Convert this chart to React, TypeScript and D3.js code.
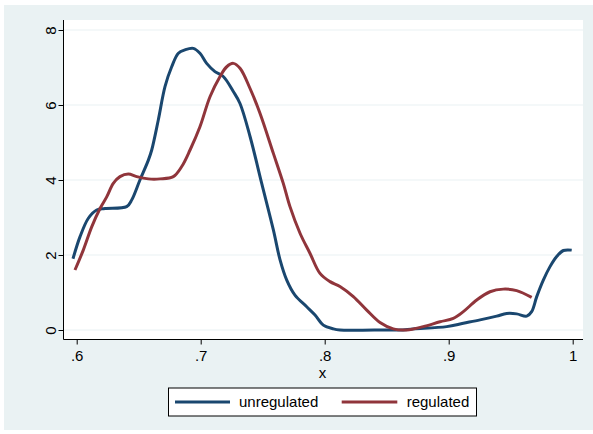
import * as d3 from "d3";
import { useEffect, useRef } from "react";

// unregulated density (x, y)
const unregX = [0.597, 0.6027, 0.6094, 0.6161, 0.6228, 0.6403, 0.6444, 0.651, 0.6578, 0.6605, 0.6658, 0.6712, 0.6766, 0.682, 0.6873, 0.694, 0.6994, 0.7048, 0.7115, 0.7182, 0.7263, 0.7317, 0.7398, 0.7492, 0.7586, 0.764, 0.7694, 0.776, 0.7855, 0.7922, 0.7989, 0.807, 0.8123, 0.84, 0.86, 0.8715, 0.8984, 0.9118, 0.9253, 0.9387, 0.9468, 0.9548, 0.9629, 0.9669, 0.971, 0.9763, 0.9817, 0.9871, 0.9925, 0.9992];
const unregY = [1.9, 2.49, 2.98, 3.2, 3.24, 3.29, 3.47, 4.0, 4.53, 4.8, 5.6, 6.49, 7.02, 7.38, 7.47, 7.51, 7.38, 7.11, 6.89, 6.76, 6.36, 6.04, 5.16, 3.91, 2.67, 1.87, 1.33, 0.93, 0.62, 0.4, 0.13, 0.03, 0.0, 0.0, 0.0, 0.03, 0.09, 0.18, 0.27, 0.37, 0.44, 0.43, 0.37, 0.49, 0.89, 1.33, 1.69, 1.96, 2.12, 2.13];

// regulated density (x, y)
const regX = [0.5986, 0.6053, 0.6121, 0.6188, 0.6242, 0.6295, 0.6349, 0.6416, 0.6484, 0.6578, 0.6672, 0.6779, 0.6847, 0.6914, 0.6994, 0.7075, 0.7156, 0.721, 0.7263, 0.7317, 0.7398, 0.7478, 0.7586, 0.7666, 0.772, 0.7801, 0.7882, 0.7962, 0.8043, 0.8123, 0.8231, 0.8339, 0.8446, 0.8553, 0.8661, 0.8795, 0.893, 0.9037, 0.9118, 0.9226, 0.9333, 0.944, 0.9548, 0.9669];
const regY = [1.6, 2.13, 2.75, 3.24, 3.55, 3.91, 4.09, 4.16, 4.09, 4.03, 4.03, 4.09, 4.36, 4.8, 5.42, 6.22, 6.76, 7.02, 7.11, 6.98, 6.44, 5.78, 4.71, 3.91, 3.29, 2.58, 2.04, 1.51, 1.29, 1.16, 0.89, 0.53, 0.2, 0.03, 0.0, 0.09, 0.22, 0.31, 0.49, 0.8, 1.02, 1.09, 1.05, 0.87];

const xTicks = [0.6, 0.7, 0.8, 0.9, 1];
const yTicks = [0, 2, 4, 6, 8];
const seriesNames = ["unregulated", "regulated"];
const colors = ["#1a476f", "#90353b"];

const W = 593;
const H = 434;
const FONT = "'Liberation Sans', Arial, sans-serif";

export default function App() {
  const svgRef = useRef<SVGSVGElement>(null);

  useEffect(() => {
    const svg = d3.select(svgRef.current);
    svg.selectAll("*").remove();
    svg.attr("width", W).attr("height", H);

    // outer background
    svg.append("rect").attr("width", W).attr("height", H).attr("fill", "#fff");
    svg
      .append("rect")
      .attr("x", 4)
      .attr("y", 5)
      .attr("width", W - 4)
      .attr("height", 425)
      .attr("fill", "#eaf2f3");

    const plot = { left: 63.5, right: 583, top: 20, bottom: 339.5 };
    svg
      .append("rect")
      .attr("x", plot.left)
      .attr("y", plot.top)
      .attr("width", plot.right - plot.left)
      .attr("height", plot.bottom - plot.top)
      .attr("fill", "#fff");

    const x = d3.scaleLinear().domain([0.6, 1]).range([76.7, 572.7]);
    const y = d3.scaleLinear().domain([0, 8]).range([330, 30]);

    // gridlines
    svg
      .append("g")
      .selectAll("line")
      .data(yTicks)
      .enter()
      .append("line")
      .attr("x1", plot.left)
      .attr("x2", plot.right)
      .attr("y1", (d) => y(d))
      .attr("y2", (d) => y(d))
      .attr("stroke", "#eaf2f3")
      .attr("stroke-width", 1.2);

    // y axis
    const ya = svg
      .append("g")
      .attr("transform", `translate(${plot.left},0)`)
      .call(
        d3
          .axisLeft(y)
          .tickValues(yTicks)
          .tickSize(5)
          .tickSizeOuter(0)
          .tickFormat((d) => String(d))
      );
    ya.select(".domain").attr("d", `M0,${plot.top}V${plot.bottom}`).attr("stroke", "#000");
    ya.selectAll(".tick line").attr("stroke", "#000");
    ya.selectAll<SVGTextElement, number>(".tick text")
      .attr("font-family", FONT)
      .attr("font-size", 15)
      .attr("fill", "#000")
      .attr("text-anchor", "middle")
      .attr("x", 0)
      .attr("dy", 0)
      .attr("transform", "translate(-13,0) rotate(-90)")
      .attr("dominant-baseline", "central");

    // x axis
    const xa = svg
      .append("g")
      .attr("transform", `translate(0,${plot.bottom})`)
      .call(
        d3
          .axisBottom(x)
          .tickValues(xTicks)
          .tickSize(5)
          .tickSizeOuter(0)
          .tickFormat((d) => {
            const v = +d;
            return v === 1 ? "1" : d3.format(".1f")(v).replace(/^0/, "");
          })
      );
    xa.select(".domain").attr("d", `M${plot.left},0H${plot.right}`).attr("stroke", "#000");
    xa.selectAll(".tick line").attr("stroke", "#000");
    xa.selectAll(".tick text")
      .attr("font-family", FONT)
      .attr("font-size", 15)
      .attr("fill", "#000")
      .attr("y", 11)
      .attr("dy", "0.71em");

    svg
      .append("text")
      .attr("x", 322.5)
      .attr("y", 378)
      .attr("text-anchor", "middle")
      .attr("font-family", FONT)
      .attr("font-size", 15)
      .text("x");

    // lines
    const line = d3
      .line<[number, number]>()
      .x((d) => x(d[0]))
      .y((d) => y(d[1]))
      .curve(d3.curveCatmullRom.alpha(0.5));

    const series: [number, number][][] = [
      unregX.map((v, i) => [v, unregY[i]] as [number, number]),
      regX.map((v, i) => [v, regY[i]] as [number, number]),
    ];

    // regulated drawn last so it sits on top
    series.forEach((s, i) => {
      svg
        .append("path")
        .attr("d", line(s) ?? "")
        .attr("fill", "none")
        .attr("stroke", colors[i])
        .attr("stroke-width", 3)
        .attr("stroke-linejoin", "round");
    });

    // legend
    const lg = svg.append("g");
    lg.append("rect")
      .attr("x", 168.5)
      .attr("y", 388)
      .attr("width", 308)
      .attr("height", 28)
      .attr("fill", "#fff")
      .attr("stroke", "#000")
      .attr("stroke-width", 1);
    const legendPos = [
      { x1: 175, x2: 230, tx: 239 },
      { x1: 341.7, x2: 397.3, tx: 406.7 },
    ];
    seriesNames.forEach((name, i) => {
      const p = legendPos[i];
      lg.append("line")
        .attr("x1", p.x1)
        .attr("x2", p.x2)
        .attr("y1", 402)
        .attr("y2", 402)
        .attr("stroke", colors[i])
        .attr("stroke-width", 3);
      lg.append("text")
        .attr("x", p.tx)
        .attr("y", 402)
        .attr("dy", "0.35em")
        .attr("font-family", FONT)
        .attr("font-size", 15)
        .text(name);
    });
  }, []);

  return (
    <svg
      ref={svgRef}
      style={{ position: "absolute", left: 0, top: 0, display: "block" }}
    />
  );
}
